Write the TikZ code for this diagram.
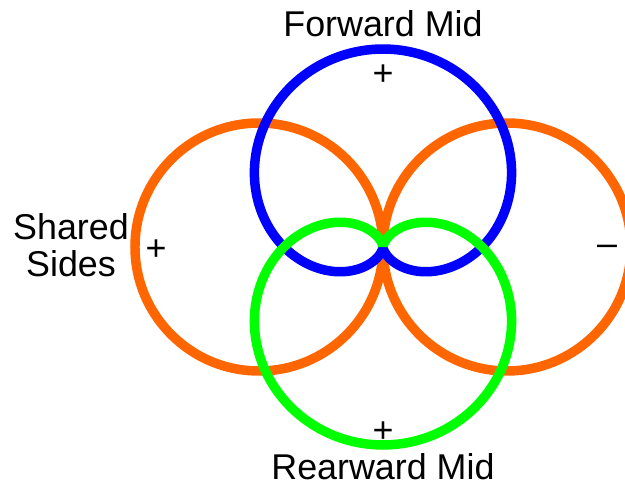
\documentclass[tikz,border=0pt]{standalone}
\usepackage{fontspec}
\setmainfont{Liberation Sans}
\definecolor{sideorange}{RGB}{255,102,0}
\definecolor{midblue}{RGB}{0,0,255}
\definecolor{midgreen}{RGB}{0,255,0}
\tikzset{
  lobe/.style={line width=2.7pt},
  lbl/.style={font=\fontsize{10.2}{10.6}\selectfont, inner sep=0pt},
}
\begin{document}
\begin{tikzpicture}
\useasboundingbox (-3.83,-2.38) rectangle (2.42,2.47);
% shared sides, figure of eight
\draw[lobe, sideorange] (-1.24,0) circle (1.24);
\draw[lobe, sideorange] (1.24,0) circle (1.24);
% forward mid
\draw[lobe, midblue] plot[domain=0:360, samples=240, smooth] (\x:{0.99*(1+sin(\x))});
% rearward mid
\draw[lobe, midgreen] plot[domain=0:360, samples=240, smooth] (\x:{0.99*(1-sin(\x))});
\node[lbl] (fwd) at (0,2.23) {Forward Mid};
\node[lbl] (fwdsign) at (0,1.72) {+};
\node[lbl] (rear) at (0,-2.2) {Rearward Mid};
\node[lbl] (rearsign) at (0,-1.85) {+};
\node[lbl, align=center] (sides) at (-3.12,0.02) {Shared\\Sides};
\node[lbl] (leftsign) at (-2.27,-0.03) {+};
\node[lbl] (rightsign) at (2.24,-0.03) {--};
\end{tikzpicture}
\end{document}
